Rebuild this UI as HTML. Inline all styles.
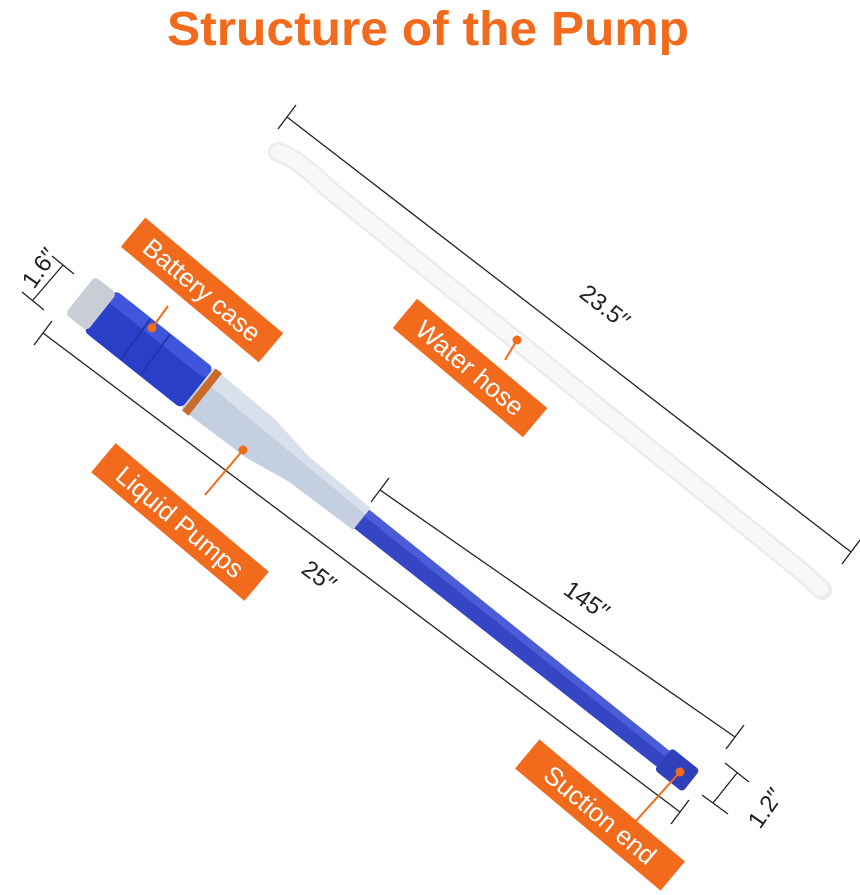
<!DOCTYPE html>
<html><head><meta charset="utf-8"><style>
html,body{margin:0;padding:0;background:#fff;}
svg{display:block}
</style></head><body>
<svg width="860" height="895" viewBox="0 0 860 895" xmlns="http://www.w3.org/2000/svg" font-family="Liberation Sans, sans-serif">
<text x="428" y="45" text-anchor="middle" font-size="48" font-weight="bold" fill="#f26a1b" textLength="522" lengthAdjust="spacingAndGlyphs">Structure of the Pump</text>

<path d="M278,152 Q300,160 330,190 L800,570 L822,590" fill="none" stroke="#ececec" stroke-width="20" stroke-linecap="round"/>
<path d="M278,152 Q300,160 330,190 L800,570 L822,590" fill="none" stroke="#f8f8f8" stroke-width="15" stroke-linecap="round" stroke-dasharray="2 3"/>

<g stroke="#222" stroke-width="1.3" fill="none">
<line x1="287" y1="117" x2="851" y2="552"/>
<line x1="278" y1="129" x2="296" y2="105"/><line x1="842" y1="564" x2="860" y2="540"/>
<line x1="43" y1="333" x2="680" y2="812"/>
<line x1="34" y1="345" x2="52" y2="321"/><line x1="671" y1="824" x2="689" y2="800"/>
<line x1="380" y1="490" x2="735" y2="737"/>
<line x1="371" y1="502" x2="389" y2="478"/><line x1="726" y1="749" x2="744" y2="725"/>
<line x1="33" y1="300" x2="63" y2="265"/>
<line x1="22" y1="292" x2="44" y2="310"/><line x1="52" y1="256" x2="74" y2="274"/>
<line x1="737" y1="773" x2="713" y2="803"/>
<line x1="725" y1="763" x2="749" y2="782"/><line x1="702" y1="795" x2="728" y2="814"/>
</g>
<g font-size="24" fill="#222">
<text transform="translate(578,296) rotate(38)">23.5′′</text>
<text transform="translate(300,572) rotate(37)">25′′</text>
<text transform="translate(562,593) rotate(35)">145′′</text>
<text transform="translate(34,290) rotate(-55)">1.6′′</text>
<text transform="translate(760,830) rotate(-55)">1.2′′</text>
</g>

<g transform="translate(80,295) rotate(38.5)">
<path d="M350,-12 L770,-10 L770,10 L350,12 Z" fill="#3446c4"/>
<path d="M350,-12 L770,-10 L770,-3 L350,-4 Z" fill="#4a5cd6"/>
<rect x="745" y="-14" width="36" height="28" rx="4" fill="#3040bb"/>
<path d="M150,-26 L230,-24 L280,-16 L360,-14 L360,14 L280,16 L230,24 L150,26 Z" fill="#c4cfe0"/>
<path d="M150,-26 L230,-24 L280,-16 L360,-14 L360,-6 L150,-10 Z" fill="#d8e0ec"/>
<rect x="152" y="-27" width="8" height="54" fill="#c96a2a"/>
<rect x="25" y="-26" width="125" height="52" rx="6" fill="#2a3fc8"/>
<rect x="25" y="-26" width="125" height="14" rx="5" fill="#3e55dc"/>
<line x1="70" y1="-25" x2="72" y2="25" stroke="#2334a8" stroke-width="2"/>
<line x1="95" y1="-25" x2="97" y2="25" stroke="#2334a8" stroke-width="2"/>
<rect x="0" y="-24" width="28" height="48" rx="5" fill="#c8cdd6"/>
</g>

<g stroke="#f26a1b" stroke-width="2">
<line x1="152" y1="328" x2="168" y2="306"/>
<line x1="243" y1="450" x2="205" y2="495"/>
<line x1="517" y1="340" x2="505" y2="360"/>
<line x1="680" y1="772" x2="635" y2="822"/>
</g>
<g fill="#f26a1b">
<circle cx="152" cy="328" r="4.5"/><circle cx="243" cy="450" r="4.5"/>
<circle cx="517" cy="340" r="4.5"/><circle cx="680" cy="772" r="4.5"/>
</g>
<g font-size="26" fill="#fff">
<g transform="translate(202,290) rotate(40)"><rect x="-90" y="-19" width="180" height="38" fill="#f26a1b"/><text x="0" y="9" text-anchor="middle">Battery case</text></g>
<g transform="translate(470,368) rotate(40)"><rect x="-85" y="-19" width="170" height="38" fill="#f26a1b"/><text x="0" y="9" text-anchor="middle">Water hose</text></g>
<g transform="translate(180,522) rotate(40)"><rect x="-100" y="-19" width="200" height="38" fill="#f26a1b"/><text x="0" y="9" text-anchor="middle">Liquid Pumps</text></g>
<g transform="translate(600,815) rotate(40)"><rect x="-95" y="-19" width="190" height="38" fill="#f26a1b"/><text x="0" y="9" text-anchor="middle">Suction end</text></g>
</g>
</svg>
</body></html>
